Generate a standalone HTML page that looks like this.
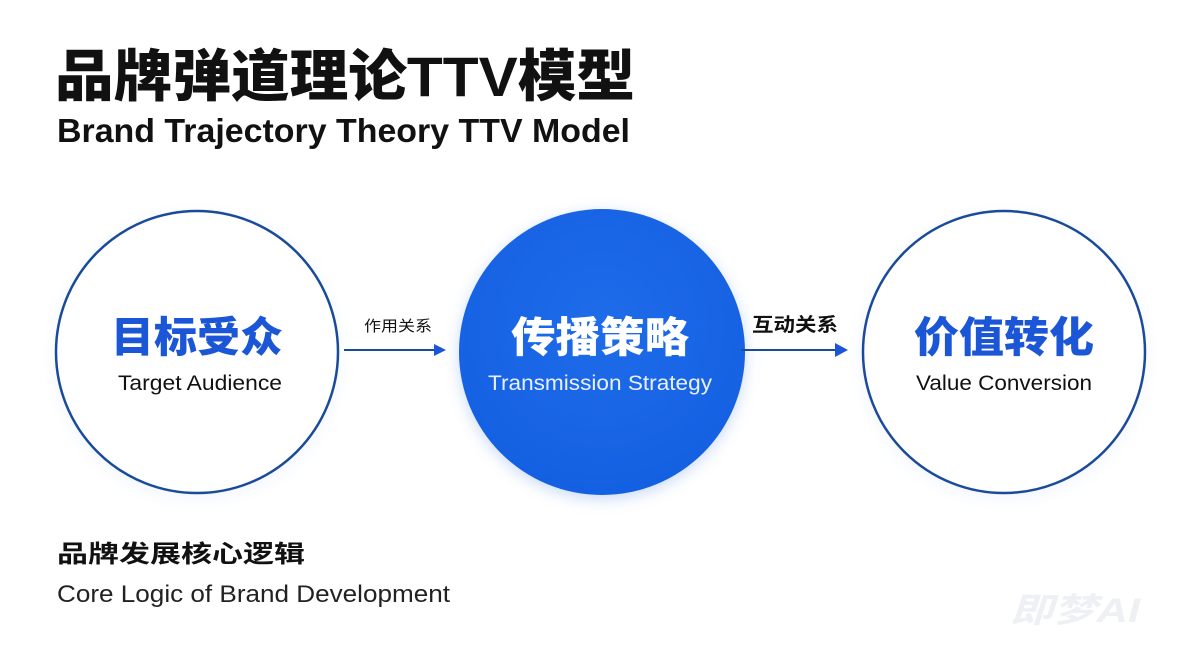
<!DOCTYPE html>
<html><head><meta charset="utf-8"><style>
html,body{margin:0;padding:0;background:#fff;}
svg{display:block;}
</style></head><body>
<svg width="1200" height="668" viewBox="0 0 1200 668" xmlns="http://www.w3.org/2000/svg">
<defs>
<radialGradient id="g" cx="50%" cy="40%" r="60%">
<stop offset="0" stop-color="#1f6cea"/><stop offset="1" stop-color="#1460e2"/>
</radialGradient>
<filter id="sh" x="-20%" y="-20%" width="140%" height="140%"><feGaussianBlur stdDeviation="8"/></filter>
</defs>
<rect width="1200" height="668" fill="#fff"/>
<g font-family="'Liberation Sans','Noto Sans CJK SC',sans-serif">
<text x="55" y="96" font-size="56" font-weight="900" fill="#111" textLength="580" lengthAdjust="spacingAndGlyphs">品牌弹道理论TTV模型</text>
<text x="57" y="142" font-size="33" font-weight="bold" fill="#111" textLength="573" lengthAdjust="spacingAndGlyphs">Brand Trajectory Theory TTV Model</text>

<circle cx="197" cy="356" r="142" fill="#e6eefb" filter="url(#sh)" opacity="0.6"/>
<circle cx="1004" cy="356" r="142" fill="#e6eefb" filter="url(#sh)" opacity="0.6"/>
<circle cx="602" cy="356" r="142" fill="#9dbcf0" filter="url(#sh)" opacity="0.6"/>

<circle cx="197" cy="352" r="141" fill="#fff" stroke="#1a4a9a" stroke-width="2.5"/>
<circle cx="1004" cy="352" r="141" fill="#fff" stroke="#1a4a9a" stroke-width="2.5"/>
<circle cx="602" cy="352" r="143" fill="url(#g)"/>

<text x="197" y="352" text-anchor="middle" font-size="42" font-weight="900" fill="#1a56d6" textLength="172" lengthAdjust="spacingAndGlyphs">目标受众</text>
<text x="200" y="390" text-anchor="middle" font-size="21" fill="#111" textLength="164" lengthAdjust="spacingAndGlyphs">Target Audience</text>

<text x="600" y="352" text-anchor="middle" font-size="42" font-weight="900" fill="#fff" textLength="178" lengthAdjust="spacingAndGlyphs">传播策略</text>
<text x="600" y="390" text-anchor="middle" font-size="21" fill="#e8f0ff" textLength="224" lengthAdjust="spacingAndGlyphs">Transmission Strategy</text>

<text x="1004" y="352" text-anchor="middle" font-size="42" font-weight="900" fill="#1a56d6" textLength="180" lengthAdjust="spacingAndGlyphs">价值转化</text>
<text x="1004" y="390" text-anchor="middle" font-size="21" fill="#111" textLength="176" lengthAdjust="spacingAndGlyphs">Value Conversion</text>

<line x1="344" y1="350" x2="434" y2="350" stroke="#1a4a9a" stroke-width="2"/>
<polygon points="434,344 446,350 434,356" fill="#1a56d6"/>
<text x="398" y="331" text-anchor="middle" font-size="15" fill="#111" textLength="68" lengthAdjust="spacingAndGlyphs">作用关系</text>

<line x1="741" y1="350" x2="836" y2="350" stroke="#1a4a9a" stroke-width="2"/>
<polygon points="835,343 848,350 835,357" fill="#1a56d6"/>
<text x="795" y="331" text-anchor="middle" font-size="19" font-weight="bold" fill="#111" textLength="86" lengthAdjust="spacingAndGlyphs">互动关系</text>

<text x="57" y="562" font-size="24" font-weight="bold" fill="#111" textLength="248" lengthAdjust="spacingAndGlyphs">品牌发展核心逻辑</text>
<text x="57" y="602" font-size="24" fill="#222" textLength="393" lengthAdjust="spacingAndGlyphs">Core Logic of Brand Development</text>

<text x="1010" y="622" font-size="34" font-weight="bold" font-style="italic" fill="#eef0f4" textLength="130" lengthAdjust="spacingAndGlyphs">即梦AI</text>
</g>
</svg>
</body></html>
